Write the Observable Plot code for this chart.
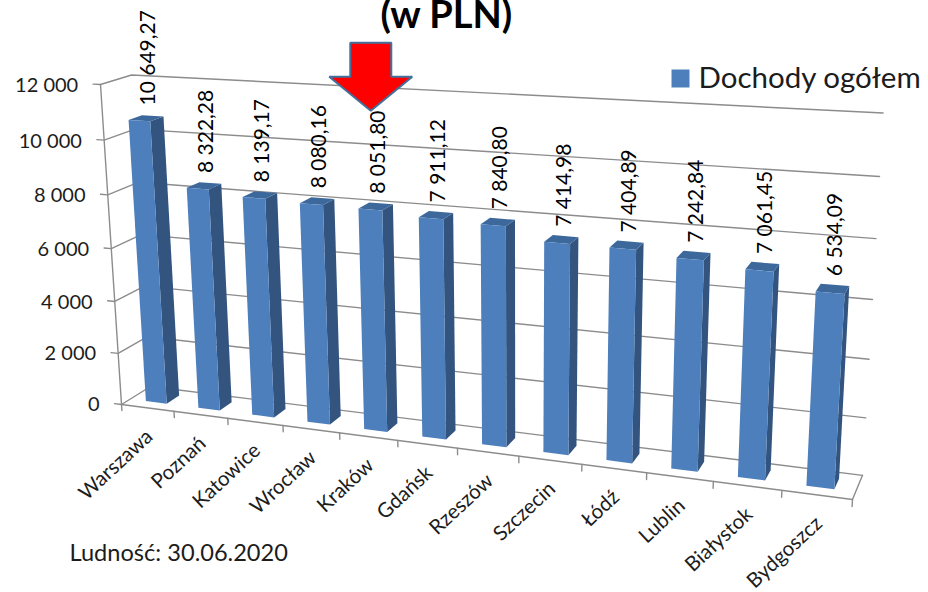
<!DOCTYPE html>
<html>
<head>
<meta charset="utf-8">
<script src="https://cdn.jsdelivr.net/npm/d3@7"></script>
<script src="https://cdn.jsdelivr.net/npm/@observablehq/plot@0.6"></script>
<style>html,body{margin:0;padding:0;background:#fff}svg{display:block}</style>
</head>
<body>
<div id="chart"></div>
<script>
const cities = ["Warszawa","Poznań","Katowice","Wrocław","Kraków","Gdańsk","Rzeszów","Szczecin","Łódź","Lublin","Białystok","Bydgoszcz"];
const income = [10649.27,8322.28,8139.17,8080.16,8051.80,7911.12,7840.80,7414.98,7404.89,7242.84,7061.45,6534.09];
const yTicks = [0,2000,4000,6000,8000,10000,12000];
const seriesName = "Dochody ogółem";
const titleText = "(w PLN)";
const noteText = "Ludność: 30.06.2020";
const highlightCity = "Kraków";

const W = 928, H = 592, FONT = "Lato, 'Open Sans', sans-serif", INK = "#1c1c1c";
const yMax = 12000, n = cities.length;

// perspective of the 3-D box: corners of the origin and of the three axes with their weights
const O=[121,404], Ux=[852,499], Vy=[100,84], Dz=[150,386], a=0.8506, b=0.95, c=1.0288;
function proj(u, val, d){
  const p=u/n, q=val/yMax;
  const w=1+p*(a-1)+q*(b-1)+d*(c-1);
  const f=i=>(O[i]*(1-p-q-d)+p*a*Ux[i]+q*b*Vy[i]+d*c*Dz[i])/w;
  return [f(0),f(1)];
}
const seg=(id,pts)=>pts.map(([u,v,d])=>{const [x,y]=proj(u,v,d);return {id,x,y};});

const u0=.3,u1=.7,d0=.3,d1=.74;
const frontFace=[],sideFace=[],topFace=[];
income.forEach((v,i)=>{
  frontFace.push(...seg(i,[[i+u0,0,d0],[i+u1,0,d0],[i+u1,v,d0],[i+u0,v,d0]]));
  sideFace.push(...seg(i,[[i+u1,0,d0],[i+u1,0,d1],[i+u1,v,d1],[i+u1,v,d0]]));
  topFace.push(...seg(i,[[i+u0,v,d0],[i+u1,v,d0],[i+u1,v,d1],[i+u0,v,d1]]));
});

const grid=[], frame=[];
yTicks.forEach(t=>{
  grid.push(...seg("s"+t,[[-0.135,t,0],[0,t,0],[0,t,1],[n,t,1]]));
});
frame.push(...seg("axisY",[[0,-240,0],[0,yMax,0]]));
frame.push(...seg("axisX",[[0,0,0],[n,0,0],[n,0,1]]));
d3.range(1,n+1).forEach(k=>frame.push(...seg("t"+k,[[k,0,0],[k,-240,0]])));

const tickFmt=v=>d3.format(",")(v).replace(/,/g," ");
const valFmt=v=>tickFmt(Math.floor(v))+","+v.toFixed(2).split(".")[1];
const pt=(u,v,d)=>{const [x,y]=proj(u,v,d);return {x,y};};
const yLabels=yTicks.map(t=>({...pt(-0.135,t,0),label:tickFmt(t)}));
const valLabels=income.map((v,i)=>({...pt(i+.5,v,.5),label:valFmt(v)}));
const catLabels=cities.map((s,i)=>({...pt(i+.5,0,0),label:s}));

// arrow above the highlighted city: pixel offsets from its tip, tip hung above the bar
const hi=cities.indexOf(highlightCity);
const tip=pt(hi+.5,income[hi],.5);
const arrowDx=[-20.5,20.5,20.5,41.5,0,-41.5,-20.5];
const arrowDy=[-68,-68,-34,-34,0,-34,-34];
const arrow=arrowDx.map((dx,i)=>({x:tip.x-4.5+dx,y:tip.y-96+arrowDy[i]}));

const plot=Plot.plot({
  width:W,height:H,margin:0,
  x:{domain:[0,W],range:[0,W],axis:null},
  y:{domain:[0,H],range:[0,H],axis:null},
  style:{background:"#fff",fontFamily:FONT},
  marks:[
    Plot.line(grid,{x:"x",y:"y",z:"id",stroke:"#8c8c8c",strokeWidth:1.4}),
    Plot.line(frame,{x:"x",y:"y",z:"id",stroke:"#8c8c8c",strokeWidth:1.4}),
    Plot.line(sideFace,{x:"x",y:"y",z:"id",fill:"#32547f",stroke:"none",curve:"linear-closed"}),
    Plot.line(topFace,{x:"x",y:"y",z:"id",fill:"#3d689c",stroke:"none",curve:"linear-closed"}),
    Plot.line(frontFace,{x:"x",y:"y",z:"id",fill:"#4d7fbc",stroke:"none",curve:"linear-closed"}),
    Plot.line(arrow,{x:"x",y:"y",fill:"#ff0000",stroke:"#41719c",strokeWidth:2,curve:"linear-closed",strokeLinejoin:"miter"}),
    Plot.text(yLabels,{x:"x",y:"y",text:"label",textAnchor:"end",dx:-15,dy:1.5,fontSize:20,fill:INK}),
    Plot.text(valLabels,{x:"x",y:"y",text:"label",rotate:-90,textAnchor:"start",dx:3,dy:-13,fontSize:21,fill:"#000"}),
    Plot.text(catLabels,{x:"x",y:"y",text:"label",rotate:-43,textAnchor:"end",dx:2,dy:25.5,fontSize:20.5,fill:INK}),
    Plot.text([titleText],{frameAnchor:"top-left",dx:380,dy:0.5,text:d=>d,textAnchor:"start",lineAnchor:"top",fontSize:38,fontWeight:700,fill:"#000"}),
    Plot.dot([seriesName],{frameAnchor:"top-left",dx:680,dy:78,r:10.15,symbol:"square",fill:"#4d7fbc",stroke:"none"}),
    Plot.text([seriesName],{frameAnchor:"top-left",dx:698,dy:78,text:d=>d,textAnchor:"start",lineAnchor:"middle",fontSize:29.5,fill:INK}),
    Plot.text([noteText],{frameAnchor:"top-left",dx:69,dy:553,text:d=>d,textAnchor:"start",lineAnchor:"middle",fontSize:23.6,fill:INK})
  ]
});
document.getElementById("chart").appendChild(plot);
</script>
</body>
</html>
